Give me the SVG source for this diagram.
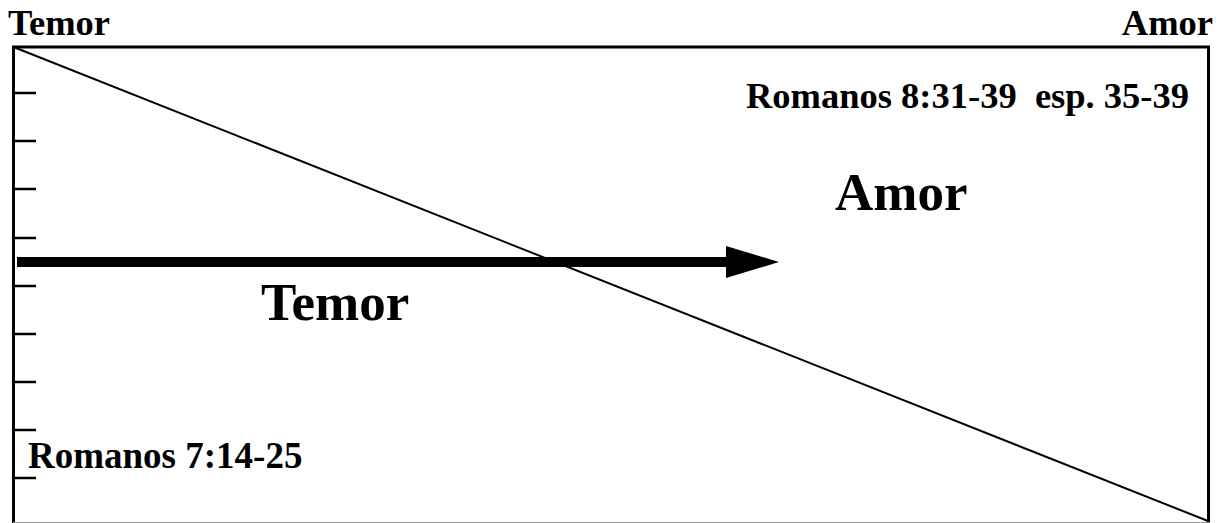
<svg xmlns="http://www.w3.org/2000/svg" width="1225" height="523" viewBox="0 0 1225 523">
<style>
text{font-family:"Liberation Serif","Times New Roman",serif;font-weight:bold;fill:#000;white-space:pre}
.s{font-size:36.5px}
.r{font-size:37px}
.b{font-size:53px}
.tick{stroke:#000;stroke-width:2.5}
.edge{stroke:#000;stroke-width:3}
</style>
<defs>
<marker id="ah" markerUnits="userSpaceOnUse" markerWidth="54" markerHeight="32" refX="0" refY="16" orient="auto">
<path d="M0,0 L53,16 L0,32 Z" fill="#000"/>
</marker>
</defs>
<rect width="1225" height="523" fill="#fff"/>
<g id="frame">
<line class="edge" x1="13.5" y1="46" x2="13.5" y2="523"/>
<line class="edge" x1="12" y1="47" x2="1210" y2="47"/>
<line class="edge" x1="1208.5" y1="46" x2="1208.5" y2="523"/>
<line x1="13" y1="522.5" x2="1210" y2="522.5" stroke="#999" stroke-width="1"/>
<line x1="13.5" y1="47" x2="1208" y2="521" stroke="#000" stroke-width="2"/>
</g>
<g id="ticks">
<line class="tick" x1="13" y1="93" x2="36" y2="93"/>
<line class="tick" x1="13" y1="141" x2="36" y2="141"/>
<line class="tick" x1="13" y1="189" x2="36" y2="189"/>
<line class="tick" x1="13" y1="238" x2="36" y2="238"/>
<line class="tick" x1="13" y1="286" x2="36" y2="286"/>
<line class="tick" x1="13" y1="334" x2="36" y2="334"/>
<line class="tick" x1="13" y1="382" x2="36" y2="382"/>
<line class="tick" x1="13" y1="430" x2="36" y2="430"/>
<line class="tick" x1="13" y1="478" x2="36" y2="478"/>
</g>
<g id="connectors">
<line x1="17" y1="262" x2="726" y2="262" stroke="#000" stroke-width="10" marker-end="url(#ah)"/>
</g>
<g id="label-temor-top"><text class="s" x="8" y="35">Temor</text></g>
<g id="label-amor-top"><text class="s" x="1213" y="35" text-anchor="end">Amor</text></g>
<g id="label-rom8"><text class="s" x="1189" y="108" text-anchor="end" xml:space="preserve">Romanos 8:31-39  esp. 35-39</text></g>
<g id="label-amor"><text class="b" x="835" y="210">Amor</text></g>
<g id="label-temor"><text class="b" x="261" y="320">Temor</text></g>
<g id="label-rom7"><text class="r" x="28" y="468">Romanos 7:14-25</text></g>
</svg>
